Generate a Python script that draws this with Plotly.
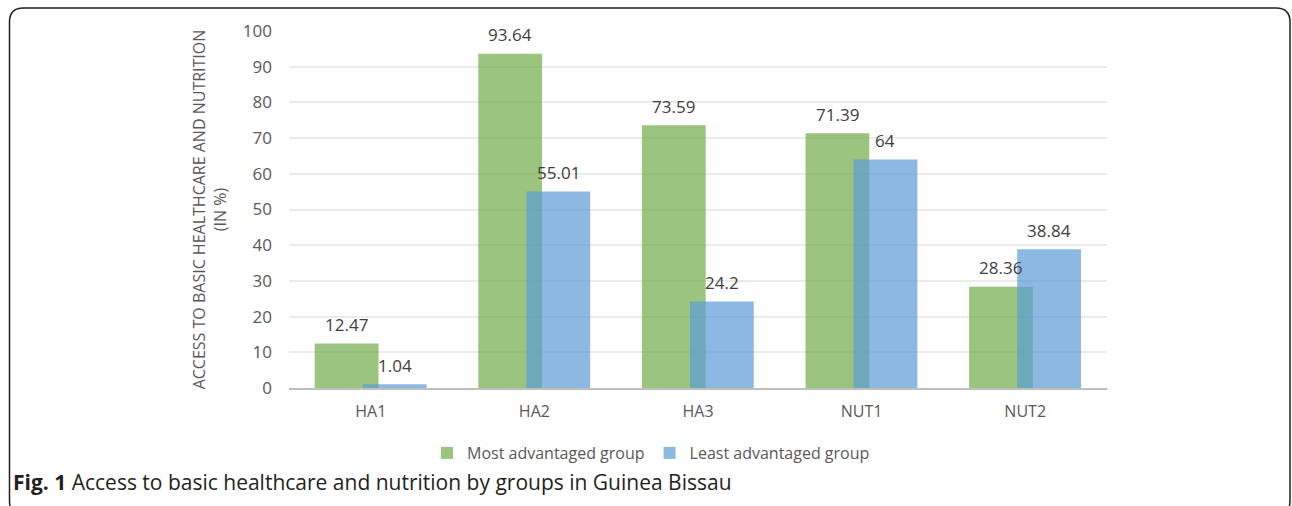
import plotly.graph_objects as go

categories = ["HA1", "HA2", "HA3", "NUT1", "NUT2"]
most_adv = [12.47, 93.64, 73.59, 71.39, 28.36]
least_adv = [1.04, 55.01, 24.2, 64, 38.84]
most_labels = ["12.47", "93.64", "73.59", "71.39", "28.36"]
least_labels = ["1.04", "55.01", "24.2", "64", "38.84"]

W, H = 1292, 506
L, R, T, B = 289, 1107, 31, 388
xs = list(range(len(categories)))
bw = 0.39
off_most = -0.343
off_least = -0.049

fig = go.Figure()
fig.add_trace(go.Bar(
    x=xs, y=most_adv, name="Most advantaged group",
    offset=off_most, width=bw,
    marker=dict(color="rgba(112,173,71,0.7)", line=dict(width=0)),
))
fig.add_trace(go.Bar(
    x=xs, y=least_adv, name="Least advantaged group",
    offset=off_least, width=bw,
    marker=dict(color="rgba(91,155,213,0.7)", line=dict(width=0)),
))

def px2x(px):
    return (px - L) / (R - L)

def py2y(py):
    return (B - py) / (B - T)

# rounded frame
x0, x1, y0, y1, r = 9.5, 1290, 8, 515, 14
def P(px, py):
    return f"{px2x(px):.5f},{py2y(py):.5f}"
path = (f"M {P(x0 + r, y0)} L {P(x1 - r, y0)} Q {P(x1, y0)} {P(x1, y0 + r)} "
        f"L {P(x1, y1 - r)} Q {P(x1, y1)} {P(x1 - r, y1)} "
        f"L {P(x0 + r, y1)} Q {P(x0, y1)} {P(x0, y1 - r)} "
        f"L {P(x0, y0 + r)} Q {P(x0, y0)} {P(x0 + r, y0)} Z")

annotations = []
for i, (v, t) in enumerate(zip(most_adv, most_labels)):
    annotations.append(dict(x=i + off_most + bw / 2, y=v, xref="x", yref="y", text=t,
                            showarrow=False, yanchor="middle", yshift=19,
                            font=dict(size=17, color="#404040", family="Open Sans")))
for i, (v, t) in enumerate(zip(least_adv, least_labels)):
    annotations.append(dict(x=i + off_least + bw / 2, y=v, xref="x", yref="y", text=t,
                            showarrow=False, yanchor="middle", yshift=19,
                            font=dict(size=17, color="#404040", family="Open Sans")))
annotations.append(dict(text="<b>Fig. 1</b> Access to basic healthcare and nutrition by groups in Guinea Bissau",
                        xref="paper", yref="paper", x=px2x(11), y=py2y(482), xanchor="left", yanchor="middle",
                        showarrow=False, font=dict(size=21, color="#231F20", family="Open Sans")))

fig.update_layout(
    width=W, height=H,
    margin=dict(l=L, r=W - R, t=T, b=H - B, autoexpand=False),
    paper_bgcolor="white", plot_bgcolor="white",
    barmode="overlay",
    font=dict(family="Open Sans", color="#595959", size=16),
    showlegend=True,
    legend=dict(orientation="h", x=px2x(651), xanchor="center", y=py2y(453), yanchor="middle",
                font=dict(size=16, color="#595959", family="Open Sans"),
                itemwidth=30, tracegroupgap=0, bgcolor="rgba(0,0,0,0)"),
    xaxis=dict(range=[-0.5, 4.5], tickmode="array", tickvals=xs, ticktext=categories,
               showgrid=False, zeroline=False, showline=True, linecolor="#BFBFBF", linewidth=2,
               ticks="", ticklabelstandoff=8, tickfont=dict(size=16, color="#595959")),
    yaxis=dict(range=[0, 100], dtick=10, showgrid=True, gridcolor="#EBEBEB", gridwidth=1.5,
               zeroline=False, showline=False, ticks="", ticklabelstandoff=16,
               tickfont=dict(size=17, color="#595959"),
               title=dict(text="ACCESS TO BASIC HEALTHCARE AND NUTRITION<br>(IN %)",
                          font=dict(size=16, color="#595959"), standoff=12)),
    shapes=[dict(type="path", path=path, xref="paper", yref="paper",
                 line=dict(color="#231F20", width=1.5), fillcolor="rgba(0,0,0,0)", layer="above")],
    annotations=annotations,
)

fig.write_html("out.html", config={"displayModeBar": False},
               post_script="document.body.style.margin='0';")
